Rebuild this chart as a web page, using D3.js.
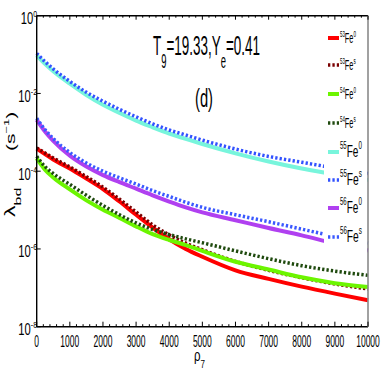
<!DOCTYPE html>
<html>
<head>
<meta charset="utf-8">
<script src="https://cdnjs.cloudflare.com/ajax/libs/d3/7.8.5/d3.min.js"></script>
<style>
	body{
	    margin:0;
	    background-color:#fff;
	}
	text{
	    font-family:"Liberation Sans Narrow","Liberation Sans",Arial,sans-serif;
	    fill:#000;
	}
</style>
</head>
<body>
<svg id="chart" width="382" height="382"></svg>
<script>
	// density grid (rho_7) and log10(lambda_bd)
	var rho    = [0, 250, 500, 1000, 1500, 2000, 2500, 3000, 3500, 4000, 4500, 5000, 6000, 7000, 8000, 9000, 10000];
	var fe53_0 = [-3.42,-3.56,-3.70,-3.93,-4.19,-4.46,-4.78,-5.12,-5.45,-5.75,-6.00,-6.20,-6.55,-6.77,-6.97,-7.15,-7.32];
	var fe53_s = [-3.40,-3.53,-3.66,-3.89,-4.14,-4.41,-4.72,-5.05,-5.38,-5.64,-5.85,-6.02,-6.32,-6.55,-6.74,-6.90,-7.03];
	var fe54_0 = [-3.67,-3.96,-4.16,-4.47,-4.75,-4.99,-5.20,-5.42,-5.62,-5.77,-5.90,-6.05,-6.33,-6.53,-6.73,-6.88,-6.98];
	var fe54_s = [-3.62,-3.88,-4.06,-4.34,-4.62,-4.88,-5.12,-5.33,-5.50,-5.63,-5.74,-5.84,-6.05,-6.25,-6.43,-6.57,-6.68];
	var fe55_0 = [-1.02,-1.24,-1.43,-1.75,-2.04,-2.29,-2.50,-2.70,-2.87,-3.03,-3.17,-3.30,-3.54,-3.75,-3.93,-4.08,-4.23];
	var fe55_s = [-0.97,-1.18,-1.37,-1.69,-1.97,-2.20,-2.41,-2.60,-2.78,-2.94,-3.07,-3.20,-3.43,-3.62,-3.77,-3.92,-4.06];
	var fe56_0 = [-2.68,-2.98,-3.22,-3.60,-3.88,-4.10,-4.28,-4.45,-4.62,-4.78,-4.93,-5.06,-5.26,-5.46,-5.65,-5.86,-6.04];
	var fe56_s = [-2.64,-2.93,-3.16,-3.52,-3.79,-4.00,-4.17,-4.33,-4.50,-4.65,-4.80,-4.93,-5.12,-5.30,-5.49,-5.68,-5.85];

	var isotopes = ["53", "53", "54", "54", "55", "55", "56", "56"];
	var states   = ["0", "s", "0", "s", "0", "s", "0", "s"];
	var values   = [fe53_0, fe53_s, fe54_0, fe54_s, fe55_0, fe55_s, fe56_0, fe56_s];
	var colors   = ["#ff0000", "#7a0000", "#6cf500", "#1f4a0e", "#78f5dc", "#3252ff", "#b040f0", "#3a58ff"];

	var xTicks = [0, 1000, 2000, 3000, 4000, 5000, 6000, 7000, 8000, 9000, 10000];
	var yExps  = [0, -2, -4, -6, -8];

	var LEFT = 36.7, RIGHT = 368, TOP = 15.7, BOTTOM = 326.7;

	var svg = d3.select("#chart");
	svg.append("rect").attr("width", 382).attr("height", 382).attr("fill", "white");

	var x = d3.scaleLinear().domain([0, 10000]).range([LEFT, RIGHT]);
	var y = d3.scaleLog().domain([1e-8, 1]).range([BOTTOM, TOP]);

	// text with sub/superscripts, squeezed horizontally like the original export
	function richText(parent, px, py, size, sx, anchor, parts, rot){
		var t = parent.append("text")
			.attr("text-anchor", anchor)
			.style("font-size", size + "px");
		var cur = 0;
		parts.forEach(function(p){
			var dy = 0, fs = size;
			if(p[1] == "sup"){ fs = size * 0.62; dy = -size * 0.45; }
			if(p[1] == "sub"){ fs = size * 0.7; dy = size * 0.45; }
			t.append("tspan").attr("dy", dy - cur).style("font-size", fs + "px").text(p[0]);
			cur = dy;
		});
		place(t, px, py, sx, rot);
		return t;
	}
	function place(t, px, py, sx, rot){
		t.attr("transform", "translate(" + px + "," + py + ") scale(" + sx + ",1)" + (rot ? " rotate(" + rot + ")" : ""));
	}
	// horizontal squeeze that makes a text `w` pixels wide
	function fitScale(t, w){
		return w / t.node().getBBox().width;
	}

	// curves
	var line = d3.line()
		.x(function(d){ return x(d[0]); })
		.y(function(d){ return y(Math.pow(10, d[1])); })
		.curve(d3.curveMonotoneX);

	values.forEach(function(v, i){
		svg.append("path")
			.datum(rho.map(function(r, j){ return [r, v[j]]; }))
			.attr("d", line)
			.attr("fill", "none")
			.attr("stroke", colors[i])
			.attr("stroke-width", states[i] == "s" ? 3.5 : 4)
			.attr("stroke-dasharray", states[i] == "s" ? "2.3,2.1" : null);
	});

	// legend box sits on top of the curves
	var leg = svg.append("g");
	leg.append("rect").attr("x", 324).attr("y", 22).attr("width", 43).attr("height", 236).attr("fill", "white");
	var legY = [38, 65, 94, 123, 152, 180, 208, 237];
	isotopes.forEach(function(iso, i){
		leg.append("line")
			.attr("x1", 328).attr("x2", 339)
			.attr("y1", legY[i]).attr("y2", legY[i])
			.attr("stroke", colors[i])
			.attr("stroke-width", states[i] == "s" ? 3.5 : 4)
			.attr("stroke-dasharray", states[i] == "s" ? "2.3,2.1" : null);
		var big = i >= 4;
		var fs = big ? 17 : 14;
		var t = leg.append("text").style("font-size", fs + "px");
		t.append("tspan").attr("dy", -fs * 0.45).style("font-size", (fs * 0.6) + "px").text(iso);
		t.append("tspan").attr("dy", fs * 0.45).text("Fe");
		t.append("tspan").attr("dy", -fs * 0.45).style("font-size", (fs * 0.62) + "px").text(states[i]);
		place(t, 340, legY[i] + 5, fitScale(t, big ? 22 : 16));
	});

	// frame
	var axes = svg.append("g").attr("stroke", "#000").attr("stroke-width", 1);
	axes.append("line").attr("x1", LEFT).attr("x2", RIGHT).attr("y1", BOTTOM).attr("y2", BOTTOM).attr("stroke-width", 1.4);
	axes.append("line").attr("x1", LEFT).attr("x2", RIGHT).attr("y1", TOP).attr("y2", TOP).attr("stroke-width", 1.4);
	axes.append("line").attr("x1", LEFT).attr("x2", LEFT).attr("y1", TOP).attr("y2", BOTTOM).attr("stroke-width", 1.4);
	axes.append("line").attr("x1", RIGHT).attr("x2", RIGHT).attr("y1", TOP).attr("y2", BOTTOM).attr("stroke", "#8a8a8a").attr("stroke-width", 1.6);

	// x ticks (minor every 200, inward, top and bottom)
	d3.range(0, 10001, 200).forEach(function(v){
		var major = v % 1000 == 0;
		var len = major ? 5 : 2.5;
		axes.append("line").attr("x1", x(v)).attr("x2", x(v)).attr("y1", BOTTOM).attr("y2", BOTTOM - len);
		axes.append("line").attr("x1", x(v)).attr("x2", x(v)).attr("y1", TOP).attr("y2", TOP + (major ? 4 : 2));
	});
	yExps.forEach(function(e){
		axes.append("line").attr("x1", LEFT).attr("x2", LEFT + 4).attr("y1", y(Math.pow(10, e))).attr("y2", y(Math.pow(10, e)));
	});

	// tick labels: one squeeze for all, from "1000" being ~19px wide
	var probe = richText(svg, 0, 0, 16, 1, "middle", [["1000", ""]]);
	var sxTick = fitScale(probe, 19);
	probe.remove();
	xTicks.forEach(function(v){
		richText(svg, x(v), 347, 16, sxTick, "middle", [[String(v), ""]]);
	});
	var probeY = richText(svg, 0, 0, 16, 1, "end", [["10", ""], ["-2", "sup"]]);
	var sxY = fitScale(probeY, 19);
	probeY.remove();
	yExps.forEach(function(e){
		richText(svg, 37, y(Math.pow(10, e)) + 8.5, 16, sxY, "end", [["10", ""], [e == 0 ? "0" : "-" + (-e), "sup"]]);
	});

	// axis labels
	var rl = richText(svg, 194, 361, 16, 1, "start", [["\u03c1", ""], ["7", "sub"]]);
	place(rl, 194, 361, fitScale(rl, 11));
	richText(svg, 14.5, 217, 23, 0.6, "start", [["\u03bb", ""], ["bd", "sub"]], -90);
	richText(svg, 14.5, 151, 21, 0.6, "start", [["(s", ""], ["\u22121", "sup"], [")", ""]], -90);

	// annotations
	var ttl = richText(svg, 153, 55, 28, 1, "start", [["T", ""], ["9", "sub"], ["=19.33,Y", ""], ["e", "sub"], ["=0.41", ""]]);
	place(ttl, 153, 55, fitScale(ttl, 107));
	var dl = richText(svg, 195, 106.5, 26, 1, "start", [["(d)", ""]]);
	place(dl, 195, 106.5, fitScale(dl, 18));
</script>
</body>
</html>
